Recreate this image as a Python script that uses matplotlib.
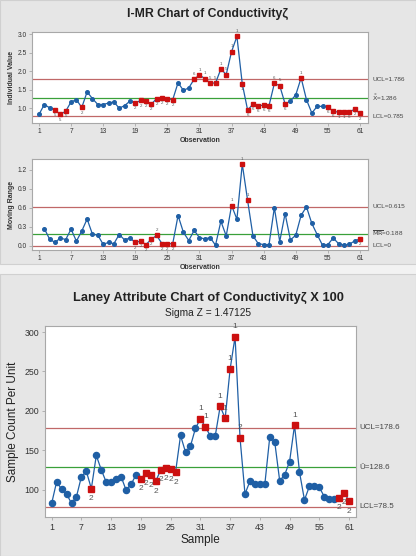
"""
I-MR chart and Laney U' chart of conductivity
"""

from matplotlib import pyplot as plt
from matplotlib.patches import Rectangle
import numpy as np

# observations 1..61
obs = np.arange(1, 62)

# individual values (I chart)
individual = [0.83, 1.10, 1.01, 0.95, 0.83, 0.92, 1.17, 1.23, 1.02, 1.44,
              1.26, 1.10, 1.10, 1.14, 1.17, 1.00, 1.07, 1.19, 1.14, 1.21,
              1.19, 1.11, 1.26, 1.28, 1.26, 1.23, 1.69, 1.48, 1.55, 1.78,
              1.90, 1.80, 1.68, 1.68, 2.06, 1.91, 2.53, 2.94, 1.66, 0.95,
              1.11, 1.07, 1.08, 1.07, 1.67, 1.61, 1.12, 1.19, 1.36, 1.82,
              1.23, 0.87, 1.05, 1.05, 1.03, 0.92, 0.89, 0.89, 0.90, 0.97, 0.86]
i_ucl, i_cl, i_lcl = 1.786, 1.286, 0.785
# failed points: (observation, test number)
i_flags = [(4, "5"), (5, "5"), (6, "5"), (9, "2"), (19, "2"), (20, "2"), (21, "2"),
           (22, "2"), (23, "2"), (24, "2"), (25, "2"), (26, "2"), (30, "6"), (31, "1"),
           (32, "1"), (33, "5"), (34, "5"), (35, "1"), (36, "5"), (37, "1"), (38, "1"),
           (39, "1"), (40, "6"), (41, "6"), (42, "6"), (43, "6"), (44, "6"), (45, "6"),
           (46, "5"), (47, "6"), (50, "1"), (55, "6"), (56, "6"), (57, "1"), (58, "1"),
           (59, "6"), (60, "2"), (61, "2")]
i_flags_above = [30, 31, 32, 33, 34, 35, 36, 37, 38, 45, 46, 50]

# moving ranges (observations 2..61)
mr_obs = np.arange(2, 62)
moving_range = [0.27, 0.10, 0.05, 0.12, 0.095, 0.26, 0.07, 0.23, 0.42,
                0.18, 0.165, 0.02, 0.05, 0.03, 0.175, 0.09, 0.12, 0.05, 0.07,
                0.016, 0.10, 0.16, 0.03, 0.03, 0.03, 0.475, 0.21, 0.08, 0.24,
                0.127, 0.105, 0.127, 0.005, 0.385, 0.153, 0.634, 0.417, 1.29, 0.714,
                0.153, 0.03, 0.016, 0.016, 0.60, 0.063, 0.507, 0.09, 0.164, 0.48,
                0.613, 0.35, 0.174, 0.005, 0.016, 0.12, 0.03, 0.005, 0.02, 0.074, 0.106]
mr_ucl, mr_cl, mr_lcl = 0.615, 0.188, 0.0
mr_flags = [(19, "2"), (20, "2"), (21, "2"), (22, "2"), (23, "2"), (24, "2"),
            (25, "2"), (26, "2"), (37, "1"), (39, "1"), (40, "1"), (61, "2")]
mr_flags_above = [23, 37, 39, 40]

# Laney U' chart (conductivity x 100)
laney = [83.2, 110.5, 100.8, 95.0, 83.0, 91.6, 117.0, 123.5, 101.7, 143.7,
         125.6, 110.0, 110.5, 114.3, 117.0, 100.0, 107.0, 119.0, 114.3, 121.0,
         119.0, 111.0, 125.6, 127.7, 126.0, 123.0, 169.0, 148.0, 155.5, 178.0,
         190.0, 180.0, 168.5, 168.5, 206.0, 190.7, 253.0, 294.0, 166.0, 95.0,
         111.0, 107.0, 108.0, 107.0, 167.0, 161.0, 111.8, 119.0, 136.0, 182.0,
         122.7, 87.4, 104.6, 104.6, 103.4, 91.6, 88.7, 88.7, 90.3, 96.6, 86.0]
u_ucl, u_cl, u_lcl = 178.6, 128.6, 78.5
u_flags = [(9, "2"), (19, "2"), (20, "2"), (21, "2"), (22, "2"), (23, "2"), (24, "2"),
           (25, "2"), (26, "2"), (31, "1"), (32, "1"), (35, "1"), (36, "1"), (37, "1"),
           (38, "1"), (39, "2"), (50, "1"), (59, "2"), (60, "2"), (61, "2")]
u_flags_above = [31, 32, 35, 36, 37, 38, 39, 50]

xticks = [1, 7, 13, 19, 25, 31, 37, 43, 49, 55, 61]

blue = "#1f5fa5"
red = "#cc1010"
limit_red = "#c06868"
green = "#3aa03a"
bg = "#e6e6e6"

plt.rcParams['font.family'] = ['Liberation Sans', 'DejaVu Sans']

fig = plt.figure(figsize=(4.16, 5.56), dpi=100)
fig.patch.set_facecolor("#f2f2f2")
fig.patches.append(Rectangle((0.0, 1 - 264 / 556), 1.0, 264 / 556, transform=fig.transFigure,
                             facecolor=bg, edgecolor="#d0d0d0", linewidth=0.8, zorder=-1))
fig.patches.append(Rectangle((0.0, 0.0), 1.0, 1 - 274 / 556, transform=fig.transFigure,
                             facecolor=bg, edgecolor="#d0d0d0", linewidth=0.8, zorder=-1))


def control_panel(ax, x, y, flags, above, ucl, cl, lcl, labels, xlim, ylim,
                  ms_dot, ms_sq, flag_size, lab_size, lab_x):
    ax.set_facecolor("white")
    ax.plot(xlim, [ucl, ucl], color=limit_red, linewidth=0.9, zorder=1)
    ax.plot(xlim, [cl, cl], color=green, linewidth=0.9, zorder=1)
    ax.plot(xlim, [lcl, lcl], color=limit_red, linewidth=0.9, zorder=1)
    ax.plot(x, y, "-", color=blue, linewidth=0.9, zorder=2)
    y = np.asarray(y)
    x = np.asarray(x)
    flagged = [f[0] for f in flags]
    ok = ~np.isin(x, flagged)
    ax.plot(x[ok], y[ok], "o", color=blue, markersize=ms_dot, zorder=3)
    fx = np.isin(x, flagged)
    ax.plot(x[fx], y[fx], "s", color=red, markersize=ms_sq, zorder=3)
    span = ylim[1] - ylim[0]
    for ob, lab in flags:
        yv = y[list(x).index(ob)]
        if ob in above:
            ax.text(ob, yv + span * 0.035, lab, fontsize=flag_size, color="#555555",
                    ha="center", va="bottom")
        else:
            ax.text(ob, yv - span * 0.035, lab, fontsize=flag_size, color="#555555",
                    ha="center", va="top")
    for val, txt in zip([ucl, cl, lcl], labels):
        ax.text(lab_x, val, txt, transform=ax.get_yaxis_transform(), fontsize=lab_size,
                color="#444444", ha="left", va="center", clip_on=False)
    ax.set_xlim(xlim)
    ax.set_ylim(ylim)
    ax.set_xticks(xticks)
    for s in ax.spines.values():
        s.set_color("#a8a8a8")
        s.set_linewidth(0.8)
    ax.tick_params(colors="#a8a8a8", labelcolor="#333333", length=2, width=0.6)


# I chart
fig.text(0.5, 1 - 14 / 556, "I-MR Chart of Conductivityζ", ha="center", va="center",
         fontsize=8.8, fontweight="bold", color="#222222")
ax1 = fig.add_axes([32 / 416, 1 - 123 / 556, 336 / 416, 91 / 556])
control_panel(ax1, obs, individual, i_flags, i_flags_above, i_ucl, i_cl, i_lcl,
              ["UCL=1.786", r"$\bar{\bar{\mathrm{X}}}$=1.286", "LCL=0.785"],
              (-0.3, 62.5), (0.6, 3.06), 2.6, 2.8, 3.2, 4.6, 1.012)
ax1.set_yticks([1.0, 1.5, 2.0, 2.5, 3.0])
ax1.set_yticklabels(["1.0", "1.5", "2.0", "2.5", "3.0"])
ax1.tick_params(labelsize=4.8, pad=1.5)
ax1.set_xlabel("Observation", fontsize=5, fontweight="bold", color="#333333", labelpad=1.5)
ax1.set_ylabel("Individual Value", fontsize=5, fontweight="bold", color="#333333", labelpad=2)

# moving range chart
ax2 = fig.add_axes([32 / 416, 1 - 250 / 556, 336 / 416, 91 / 556])
control_panel(ax2, mr_obs, moving_range, mr_flags, mr_flags_above, mr_ucl, mr_cl, mr_lcl,
              ["UCL=0.615", r"$\overline{\mathrm{MR}}$=0.188", "LCL=0"],
              (-0.3, 62.5), (-0.07, 1.37), 2.6, 2.8, 3.2, 4.6, 1.012)
ax2.set_yticks([0.0, 0.3, 0.6, 0.9, 1.2])
ax2.set_yticklabels(["0.0", "0.3", "0.6", "0.9", "1.2"])
ax2.tick_params(labelsize=4.8, pad=1.5)
ax2.set_xlabel("Observation", fontsize=5, fontweight="bold", color="#333333", labelpad=1.5)
ax2.set_ylabel("Moving Range", fontsize=5, fontweight="bold", color="#333333", labelpad=2)

# Laney chart
fig.text(0.5, 1 - 298 / 556, "Laney Attribute Chart of Conductivityζ X 100", ha="center",
         va="center", fontsize=9.3, fontweight="bold", color="#222222")
fig.text(0.5, 1 - 313 / 556, "Sigma Z = 1.47125", ha="center", va="center",
         fontsize=7.3, color="#222222")
ax3 = fig.add_axes([45 / 416, 1 - 517 / 556, 311 / 416, 191 / 556])
control_panel(ax3, obs, laney, u_flags, u_flags_above, u_ucl, u_cl, u_lcl,
              ["UCL=178.6", "Ū=128.6", "LCL=78.5"],
              (-0.35, 62.4), (65.8, 307.6), 4.4, 4.6, 6, 5.8, 1.01)
ax3.set_yticks([100, 150, 200, 250, 300])
ax3.tick_params(labelsize=6.3, pad=2)
ax3.set_xlabel("Sample", fontsize=8.5, color="#222222", labelpad=2)
ax3.set_ylabel("Sample Count Per Unit", fontsize=8.5, color="#222222", labelpad=4)

plt.savefig("out.png", dpi=100, facecolor=fig.get_facecolor())
